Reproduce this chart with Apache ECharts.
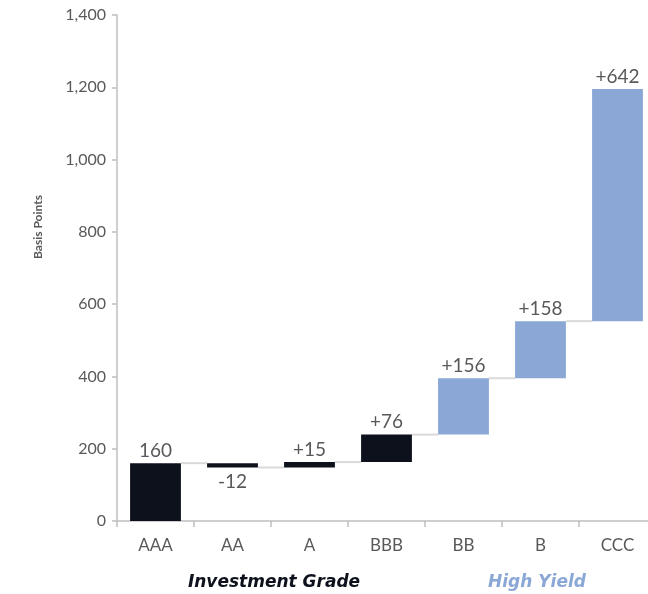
<!DOCTYPE html>
<html>
<head>
<meta charset="utf-8">
<script src="https://cdn.jsdelivr.net/npm/echarts@6/dist/echarts.min.js"></script>
<style>
  html, body { margin: 0; padding: 0; background: #fff; }
  #chart { width: 648px; height: 594px; }
</style>
</head>
<body>
<div id="chart"></div>
<script>
// Spread by credit rating, built up as a waterfall (basis points)
const categories = ['AAA', 'AA', 'A', 'BBB', 'BB', 'B', 'CCC'];
const changes = [160, -12, 15, 76, 156, 158, 642];
const groups = ['IG', 'IG', 'IG', 'IG', 'HY', 'HY', 'HY'];
const yTicks = [0, 200, 400, 600, 800, 1000, 1200, 1400];

const FONT = 'Lato, "DejaVu Sans", sans-serif';
const TITLE_FONT = '"DejaVu Sans", sans-serif';
const GREY = '#595959';
const COLORS = { IG: '#0c111c', HY: '#8aa7d6' };

// running totals give each bar its floor and ceiling
const ends = [];
let run = 0;
changes.forEach(c => { run += c; ends.push(run); });
const starts = ends.map((e, i) => e - changes[i]);
const bases = changes.map((c, i) => Math.min(starts[i], ends[i]));
const heights = changes.map(c => Math.abs(c));

const labelText = i => (i === 0 ? String(changes[i]) : (changes[i] > 0 ? '+' : '') + changes[i]);

const chart = echarts.init(document.getElementById('chart'), null, { renderer: 'canvas' });

chart.setOption({
  animation: false,
  grid: { left: 117, width: 539, top: 15, bottom: 73, containLabel: false, outerBoundsMode: 'none' },
  xAxis: {
    type: 'category',
    data: categories,
    axisLine: { lineStyle: { color: '#bfbfbf', width: 1.5 } },
    axisTick: { show: true, length: 6, lineStyle: { color: '#bfbfbf', width: 1.5 } },
    axisLabel: { color: GREY, fontFamily: FONT, fontSize: 17, margin: 16 }
  },
  yAxis: {
    type: 'value',
    min: yTicks[0],
    max: yTicks[yTicks.length - 1],
    interval: 200,
    splitLine: { show: false },
    axisLine: { show: true, lineStyle: { color: '#bfbfbf', width: 1.5 } },
    axisTick: { show: true, length: 5, lineStyle: { color: '#bfbfbf', width: 1.5 } },
    axisLabel: {
      color: GREY, fontFamily: FONT, fontSize: 16, margin: 11,
      formatter: v => v.toLocaleString('en-US')
    }
  },
  series: [
    {
      name: 'base',
      type: 'bar',
      stack: 'wf',
      barWidth: '66%',
      itemStyle: { color: 'transparent' },
      emphasis: { disabled: true },
      data: bases
    },
    {
      name: 'change',
      type: 'bar',
      stack: 'wf',
      barWidth: '66%',
      data: heights.map((h, i) => ({
        value: h,
        itemStyle: { color: COLORS[groups[i]] },
        label: {
          show: true,
          position: changes[i] < 0 ? 'bottom' : 'top',
          distance: changes[i] < 0 ? 5 : 3,
          formatter: () => labelText(i),
          color: GREY, fontFamily: FONT, fontSize: 19
        }
      }))
    },
    {
      // thin connectors from each bar's end level to the next bar
      name: 'connector',
      type: 'custom',
      silent: true,
      z: 1,
      data: ends.slice(0, -1).map((e, i) => [i, e]),
      renderItem: (params, api) => {
        const i = api.value(0);
        const level = api.value(1);
        const p0 = api.coord([i, level]);
        const p1 = api.coord([i + 1, level]);
        const band = api.size([1, 0])[0];
        const half = band * 0.33;
        return {
          type: 'line',
          shape: { x1: p0[0] + half, y1: p0[1], x2: p1[0] - half, y2: p1[1] },
          style: { stroke: '#d9d9d9', lineWidth: 2 }
        };
      }
    }
  ],
  graphic: [
    {
      type: 'text', x: 38, y: 227, rotation: Math.PI / 2,
      style: {
        text: 'Basis Points', fill: GREY, font: 'bold 12px ' + FONT,
        align: 'center', verticalAlign: 'middle'
      }
    },
    {
      type: 'text', x: 274, y: 583,
      style: {
        text: 'Investment Grade', fill: COLORS.IG, font: 'italic bold 17px ' + TITLE_FONT,
        align: 'center', verticalAlign: 'middle'
      }
    },
    {
      type: 'text', x: 537, y: 583,
      style: {
        text: 'High Yield', fill: COLORS.HY, font: 'italic bold 17px ' + TITLE_FONT,
        align: 'center', verticalAlign: 'middle'
      }
    }
  ]
});
</script>
</body>
</html>
